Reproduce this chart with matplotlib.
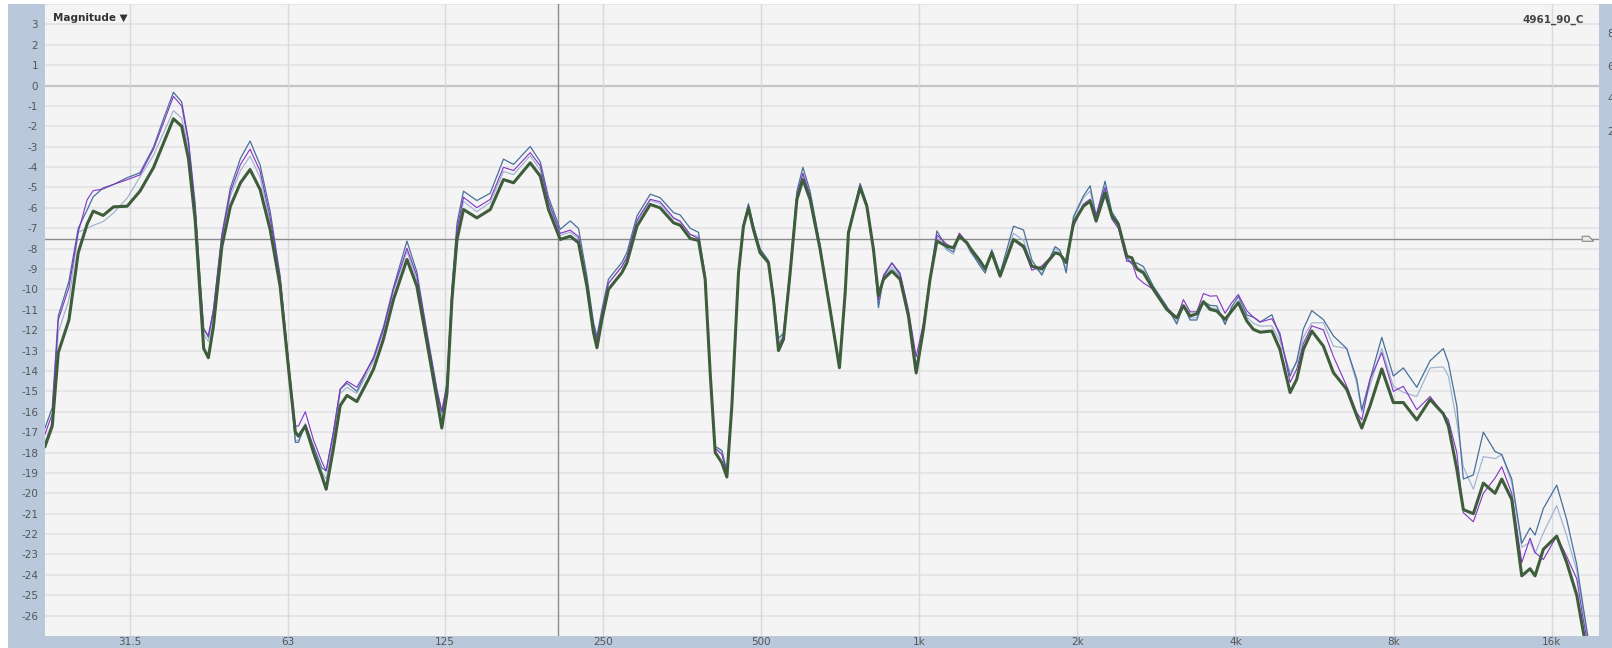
import matplotlib
matplotlib.use('Agg')
import matplotlib.pyplot as plt
from matplotlib.patches import Rectangle, Polygon

# frequency points (Hz) shared by all traces
freq = [21.7, 22.4, 23.0, 24.1, 25.1, 26.1, 26.8, 28.0, 29.3, 31.1,
        32.9, 34.9, 36.5, 38.1, 39.5, 40.7, 41.9, 42.8, 43.5, 44.4,
        45.4, 47.1, 48.9, 51.1, 53.3, 55.7, 58.2, 60.8, 63.1, 65.0,
        65.9, 67.9, 70.4, 73.0, 74.4, 76.8, 79.1, 81.5, 85.1, 89.6,
        91.6, 95.6, 99.9, 106.0, 110.7, 115.7, 120.9, 123.5, 126.3, 129.1,
        132.0, 135.8, 144.0, 152.7, 161.8, 169.1, 181.9, 190.1, 197.1, 207.5,
        216.8, 224.8, 233.2, 240.0, 243.7, 249.0, 256.3, 271.8, 277.9, 290.4,
        307.8, 321.5, 340.8, 351.0, 366.7, 380.3, 391.6, 400.3, 409.2, 421.3,
        430.7, 440.2, 453.2, 463.1, 473.4, 483.8, 498.1, 516.8, 528.3, 540.0,
        551.9, 568.3, 585.3, 600.9, 620.3, 648.1, 677.1, 705.3, 723.3, 733.7,
        750.0, 772.3, 795.4, 818.7, 836.8, 855.4, 887.4, 920.2, 954.3, 987.2,
        1019, 1049, 1081, 1129, 1162, 1193, 1233, 1250, 1306, 1336,
        1375, 1426, 1512, 1580, 1639, 1712, 1815, 1855, 1905, 1967,
        2054, 2116, 2172, 2259, 2327, 2395, 2484, 2540, 2596, 2672,
        2792, 2960, 3093, 3184, 3279, 3376, 3476, 3579, 3685, 3822,
        3933, 4051, 4204, 4327, 4457, 4691, 4860, 5082, 5233, 5387,
        5589, 5880, 6143, 6514, 6806, 6958, 7216, 7595, 7990, 8347,
        8854, 9386, 9946, 10169, 10550, 10858, 11344, 11851, 12476, 12848,
        13423, 14025, 14544, 14866, 15415, 16347, 17083, 17850, 18368, 18917]

# thick green trace (dB)
mag_green = [-17.7, -16.7, -13.1, -11.5, -8.2, -6.8, -6.16, -6.37, -5.95, -5.92,
             -5.18, -4.03, -2.81, -1.63, -2.0, -3.6, -6.6, -10.2, -12.9, -13.35,
             -11.8, -7.9, -5.92, -4.77, -4.12, -5.1, -7.06, -9.84, -13.9, -17.0,
             -17.2, -16.7, -18.0, -19.15, -19.8, -17.8, -15.7, -15.2, -15.5, -14.4,
             -13.9, -12.45, -10.5, -8.53, -9.84, -12.6, -15.4, -16.8, -15.1, -10.5,
             -7.55, -6.08, -6.49, -6.08, -4.61, -4.77, -3.79, -4.44, -6.08, -7.55,
             -7.39, -7.71, -9.84, -12.1, -12.86, -11.5, -10.0, -9.18, -8.69, -6.9,
             -5.83, -6.0, -6.73, -6.85, -7.5, -7.6, -9.5, -14.1, -18.0, -18.5,
             -19.2, -15.7, -9.18, -6.9, -6.0, -7.06, -8.2, -8.69, -10.5, -13.0,
             -12.45, -9.18, -5.59, -4.61, -5.59, -8.04, -11.0, -13.84, -10.16, -7.22,
             -6.24, -5.0, -5.92, -8.04, -10.3, -9.5, -9.1, -9.5, -11.3, -14.1,
             -11.96, -9.5, -7.63, -7.88, -7.96, -7.39, -7.71, -7.96, -8.6, -9.0,
             -8.2, -9.35, -7.55, -7.88, -8.86, -9.0, -8.2, -8.28, -8.69, -6.73,
             -5.92, -5.67, -6.65, -5.26, -6.4, -6.81, -8.37, -8.45, -9.0, -9.18,
             -10.0, -10.98, -11.4, -10.8, -11.3, -11.2, -10.6, -10.98, -11.06, -11.47,
             -11.06, -10.65, -11.55, -11.96, -12.1, -12.04, -12.94, -15.06, -14.4, -12.94,
             -12.04, -12.78, -14.08, -14.9, -16.2, -16.8, -15.7, -13.9, -15.55, -15.55,
             -16.4, -15.4, -16.1, -16.7, -18.8, -20.8, -21.0, -19.5, -20.0, -19.3,
             -20.3, -24.05, -23.7, -24.05, -22.75, -22.1, -23.4, -25.0, -26.8, -28.5]

# thin slate blue trace
mag_slate = [-16.8, -15.8, -11.3, -9.6, -7.0, -6.1, -5.46, -5.02, -4.85, -4.52,
             -4.28, -3.03, -1.61, -0.33, -0.8, -2.7, -5.8, -9.4, -11.9, -12.35,
             -11.0, -7.3, -5.02, -3.57, -2.72, -3.9, -6.16, -9.34, -13.6, -17.5,
             -17.5, -16.6, -17.7, -18.75, -18.9, -17.0, -14.9, -14.6, -15.0, -13.8,
             -13.3, -11.85, -9.9, -7.63, -9.14, -12.1, -14.9, -16.0, -14.6, -9.9,
             -6.75, -5.18, -5.64, -5.28, -3.61, -3.87, -2.99, -3.74, -5.48, -7.05,
             -6.64, -7.01, -9.34, -11.6, -12.31, -11.0, -9.5, -8.68, -8.19, -6.4,
             -5.33, -5.5, -6.23, -6.35, -7.0, -7.2, -9.3, -14.0, -17.7, -17.9,
             -18.9, -15.7, -9.18, -6.8, -5.8, -6.86, -8.0, -8.59, -10.3, -12.4,
             -12.15, -8.98, -5.19, -4.01, -5.19, -7.84, -10.9, -13.84, -10.16, -7.12,
             -6.14, -4.8, -5.82, -8.04, -10.9, -9.4, -8.7, -9.3, -11.2, -13.8,
             -11.86, -9.4, -7.13, -7.98, -8.16, -7.29, -7.71, -8.06, -8.85, -9.2,
             -8.05, -9.2, -6.9, -7.08, -8.56, -9.3, -7.9, -8.08, -9.19, -6.43,
             -5.42, -4.92, -6.4, -4.69, -6.2, -6.71, -8.47, -8.75, -8.7, -8.88,
             -9.85, -10.83, -11.7, -10.8, -11.5, -11.5, -10.6, -10.78, -10.81, -11.72,
             -10.86, -10.35, -11.25, -11.36, -11.6, -11.24, -12.29, -14.26, -13.5, -11.94,
             -11.04, -11.48, -12.28, -12.9, -14.4, -15.9, -14.4, -12.35, -14.25, -13.85,
             -14.8, -13.5, -12.9, -13.6, -15.7, -19.3, -19.1, -17.0, -17.95, -18.1,
             -19.3, -22.45, -21.7, -22.05, -20.75, -19.6, -21.3, -23.5, -25.6, -27.7]

# thin purple trace
mag_purple = [-17.1, -16.1, -11.5, -9.9, -7.2, -5.6, -5.16, -5.07, -4.85, -4.62,
              -4.38, -3.13, -1.81, -0.53, -1.0, -2.8, -6.0, -9.6, -12.0, -12.25,
              -11.0, -7.4, -5.22, -3.87, -3.12, -4.2, -6.46, -9.44, -13.6, -16.7,
              -16.7, -16.0, -17.4, -18.45, -18.9, -17.0, -14.9, -14.5, -14.8, -13.8,
              -13.4, -11.95, -10.0, -7.98, -9.34, -12.2, -15.0, -16.0, -14.7, -10.1,
              -7.05, -5.48, -5.99, -5.58, -4.01, -4.17, -3.29, -3.94, -5.68, -7.25,
              -7.09, -7.41, -9.64, -11.8, -12.46, -11.2, -9.7, -8.88, -8.39, -6.6,
              -5.58, -5.7, -6.48, -6.65, -7.3, -7.5, -9.4, -14.1, -17.8, -18.1,
              -19.0, -15.7, -9.18, -6.9, -5.9, -6.96, -8.1, -8.69, -10.4, -12.7,
              -12.35, -9.08, -5.39, -4.31, -5.39, -7.94, -11.0, -13.84, -10.16, -7.22,
              -6.24, -4.9, -5.87, -8.04, -10.5, -9.3, -8.7, -9.2, -11.0, -13.3,
              -11.66, -9.4, -7.33, -7.78, -7.96, -7.24, -7.71, -7.96, -8.7, -9.0,
              -8.2, -9.25, -7.55, -7.98, -9.06, -8.85, -8.2, -8.28, -8.59, -6.93,
              -5.82, -5.57, -6.35, -5.01, -6.55, -7.01, -8.62, -8.65, -9.4, -9.68,
              -10.0, -10.88, -11.4, -10.5, -11.1, -11.1, -10.2, -10.33, -10.31, -11.17,
              -10.66, -10.25, -11.05, -11.36, -11.6, -11.44, -12.14, -14.56, -13.9, -12.64,
              -11.79, -11.98, -13.28, -14.75, -16.05, -16.4, -14.4, -13.1, -15.0, -14.75,
              -15.9, -15.25, -16.1, -16.4, -18.0, -20.95, -21.4, -20.0, -19.25, -18.7,
              -20.0, -23.4, -22.2, -22.9, -23.25, -22.1, -23.1, -24.2, -26.2, -28.0]

# thin pale blue trace
mag_pale = [-17.5, -16.5, -12.1, -10.5, -7.2, -7.0, -6.86, -6.67, -6.25, -5.52,
            -4.48, -3.43, -2.31, -1.23, -1.6, -3.1, -6.2, -9.8, -12.2, -12.55,
            -11.2, -7.5, -5.42, -4.17, -3.46, -4.5, -6.66, -9.54, -13.8, -17.4,
            -17.4, -16.7, -17.8, -18.95, -19.3, -17.3, -15.1, -14.8, -15.1, -14.0,
            -13.5, -12.05, -10.1, -8.13, -9.54, -12.3, -15.1, -16.2, -14.8, -10.2,
            -7.25, -5.68, -6.19, -5.73, -4.21, -4.37, -3.44, -4.14, -5.78, -7.35,
            -7.19, -7.51, -9.69, -11.8, -12.46, -11.2, -9.7, -8.88, -8.49, -6.7,
            -5.63, -5.8, -6.53, -6.7, -7.3, -7.4, -9.4, -14.1, -17.8, -18.0,
            -19.1, -15.7, -9.18, -6.9, -5.9, -6.96, -8.1, -8.69, -10.4, -12.6,
            -12.25, -9.08, -5.39, -4.31, -5.39, -7.94, -11.0, -13.84, -10.16, -7.22,
            -6.24, -4.9, -5.92, -8.04, -10.7, -9.5, -8.9, -9.4, -11.3, -13.8,
            -11.96, -9.5, -7.43, -8.08, -8.26, -7.39, -7.81, -8.16, -8.8, -9.1,
            -8.2, -9.35, -7.25, -7.58, -8.86, -9.2, -8.0, -8.18, -8.99, -6.53,
            -5.52, -5.17, -6.45, -4.96, -6.4, -6.91, -8.47, -8.65, -8.9, -9.08,
            -10.0, -10.98, -11.6, -10.8, -11.4, -11.4, -10.6, -10.88, -10.96, -11.67,
            -11.06, -10.55, -11.35, -11.66, -11.8, -11.79, -12.54, -14.06, -13.6, -12.34,
            -11.64, -11.63, -12.78, -12.9, -14.6, -16.0, -14.7, -12.9, -14.75, -15.05,
            -15.25, -13.85, -13.8, -14.25, -16.5, -18.7, -19.8, -18.2, -18.3, -18.1,
            -19.5, -22.65, -22.4, -22.95, -21.95, -20.6, -22.1, -23.8, -25.8, -27.9]

x_ticks = [31.5, 63, 125, 250, 500, 1000, 2000, 4000, 8000, 16000]
x_labels = ['31.5', '63', '125', '250', '500', '1k', '2k', '4k', '8k', '16k']
y_ticks = list(range(-26, 4))
right_ticks = [8, 6, 4, 2]
cursor_freq = 205.6
cursor_db = -7.55

W, H = 1612, 648
band = '#bac8dc'
fig = plt.figure(figsize=(W / 100, H / 100), dpi=100, facecolor=band)
# white strips on the left and top edges
fig.add_artist(Rectangle((0, 0), 8 / W, 1, transform=fig.transFigure,
                         facecolor='white', edgecolor='none', zorder=-5))
fig.add_artist(Rectangle((0, 1 - 4 / H), 1, 4 / H, transform=fig.transFigure,
                         facecolor='white', edgecolor='none', zorder=-5))

ax = fig.add_axes([45 / W, 12 / H, (1599 - 45) / W, (644 - 12) / H])
ax.set_facecolor('#f4f4f4')
ax.set_xscale('log')
ax.set_xlim(21.7, 19675)
ax.set_ylim(-27, 4)

for y in y_ticks + [4]:
    ax.axhline(y, color='#e2e2e6', lw=1.2, zorder=1)
ax.axhline(0, color='#c4c4c8', lw=1.6, zorder=1)
for f in x_ticks:
    ax.axvline(f, color='#d6d9e0', lw=1.0, zorder=1)

ax.axvline(cursor_freq, color='#8c8c8c', lw=1.0, zorder=2)
ax.axhline(cursor_db, color='#8c8c8c', lw=1.0, zorder=2)

ax.plot(freq, mag_pale, color='#a3b5d3', lw=0.9, zorder=3)
ax.plot(freq, mag_slate, color='#48709a', lw=0.9, zorder=4)
ax.plot(freq, mag_purple, color='#8433c4', lw=0.8, zorder=5)
ax.plot(freq, mag_green, color='#3e5d3b', lw=2.2, zorder=6)

ax.set_xticks(x_ticks)
ax.set_xticklabels(x_labels)
ax.xaxis.set_minor_locator(matplotlib.ticker.NullLocator())
ax.set_yticks(y_ticks)
ax.set_yticklabels([str(v) for v in y_ticks])
ax.tick_params(axis='both', length=0, labelsize=7.5, labelcolor='#555555')
ax.tick_params(axis='y', pad=5)
ax.tick_params(axis='x', pad=1)
for s in ax.spines.values():
    s.set_visible(False)

# right side scale
ax2 = ax.twinx()
ax2.set_ylim(-28.9, 9.78)
ax2.set_yticks(right_ticks)
ax2.set_yticklabels([str(v) for v in right_ticks])
ax2.tick_params(axis='y', length=0, labelsize=7.5, labelcolor='#555555', pad=6)
for s in ax2.spines.values():
    s.set_visible(False)

# small marker near the right edge
ax.add_patch(Polygon([(0.9892, 0.6325), (0.9935, 0.6325), (0.9965, 0.6245), (0.9892, 0.6245)],
                     closed=True, transform=ax.transAxes, facecolor='#e8e8e8',
                     edgecolor='#8a8a8a', lw=0.8, zorder=7))

ax.text(0.005, 0.985, 'Magnitude \u25bc', transform=ax.transAxes, ha='left', va='top',
        fontsize=7.5, fontweight='bold', color='#333333')
ax.text(0.9905, 0.983, '4961_90_C', transform=ax.transAxes, ha='right', va='top',
        fontsize=7.5, fontweight='bold', color='#444444')

fig.savefig('out.png', dpi=100, facecolor=fig.get_facecolor())
